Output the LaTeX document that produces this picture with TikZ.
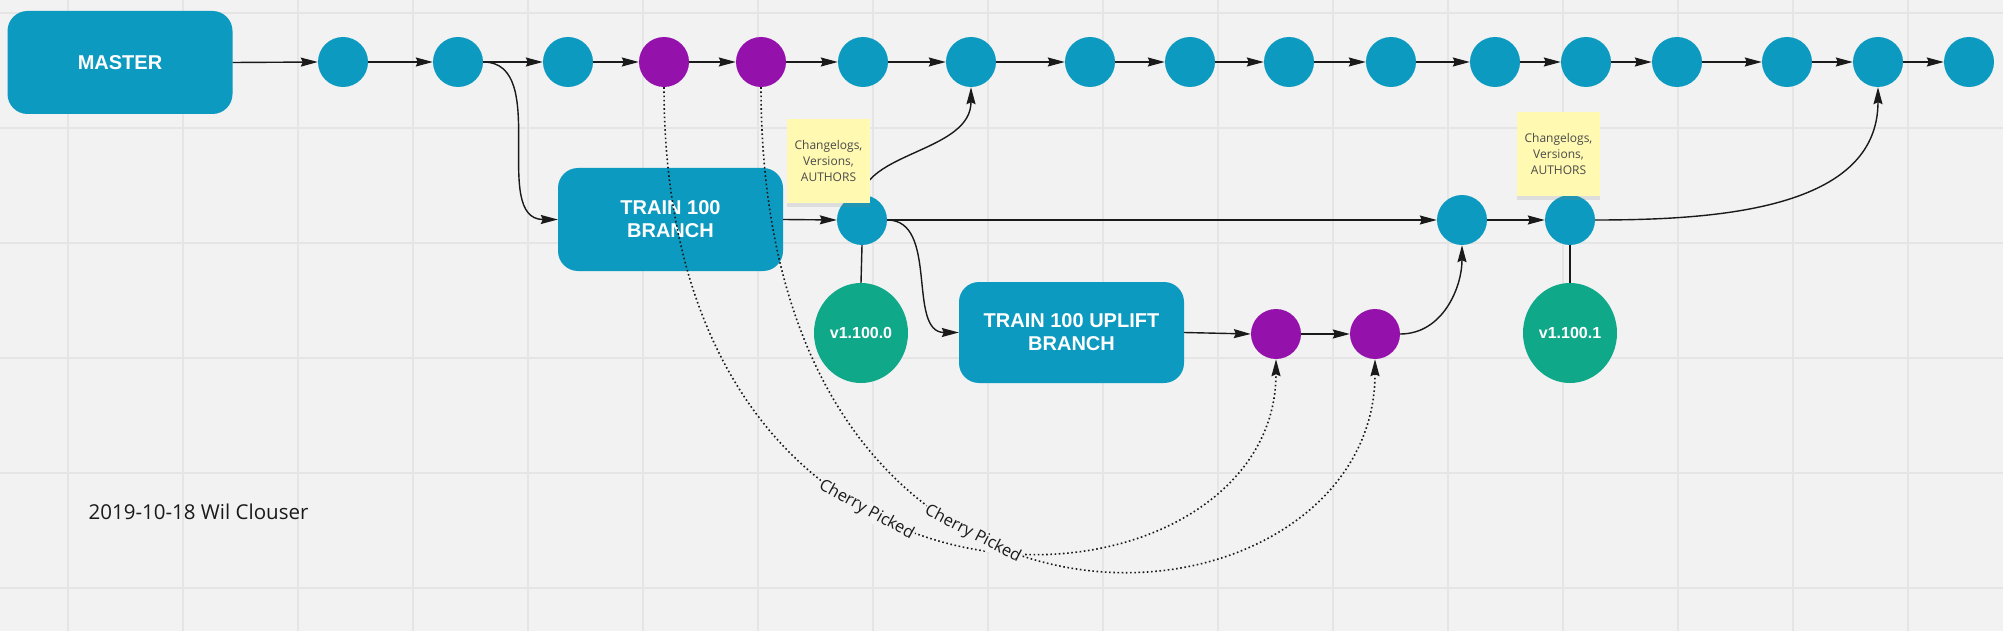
\documentclass[tikz,border=0pt]{standalone}
\usepackage{fontspec}
\setmainfont{Liberation Sans}
\newfontfamily\opensans{Open Sans}
\usetikzlibrary{arrows.meta,shapes.geometric,shadows}
\definecolor{bg}{HTML}{F2F2F2}
\definecolor{gridc}{HTML}{E5E5E5}
\definecolor{cblue}{HTML}{0C9AC0}
\definecolor{cpurple}{HTML}{9411AB}
\definecolor{cgreen}{HTML}{0FA889}
\definecolor{stickyc}{HTML}{FFF9B1}
\definecolor{ink}{HTML}{1A1A1A}
\definecolor{notetext}{HTML}{4A4A4A}
\begin{document}
\begin{tikzpicture}[x=1pt,y=1pt,
  commit/.style={circle,fill=cblue,minimum size=50pt,inner sep=0pt},
  pcommit/.style={commit,fill=cpurple},
  branchbox/.style={rounded corners=20pt,fill=cblue,text=white,
    font=\bfseries\fontsize{20}{23}\selectfont,align=center,
    minimum width=225pt,minimum height=103pt,inner sep=0pt},
  tagnode/.style={ellipse,fill=cgreen,text=white,
    font=\bfseries\fontsize{16}{18}\selectfont,
    minimum width=94pt,minimum height=100pt,inner sep=0pt},
  note/.style={fill=stickyc,text=notetext,
    font=\opensans\fontsize{12}{16}\selectfont,align=center,
    minimum width=83pt,minimum height=84pt,inner sep=0pt,
    drop shadow={opacity=0.18,shadow xshift=0pt,shadow yshift=-4pt}},
  flow/.style={draw=ink,line width=1.4pt,-{Stealth[length=17pt,width=9pt,inset=2pt]}},
  link/.style={draw=ink,line width=1.4pt},
  pick/.style={draw=ink,line width=1.6pt,dash pattern=on 1.6pt off 2.6pt,
    -{Stealth[length=17pt,width=9pt,inset=2pt]}},
  picklabel/.style={fill=bg,text=ink,inner sep=1pt,
    font=\opensans\fontsize{16.5}{16.5}\selectfont,sloped},
  gridline/.style={draw=gridc,line width=1.2pt}]

% background and grid
\fill[bg] (0,0) rectangle (2003,-631);
\useasboundingbox (0,0) rectangle (2003,-631);
\foreach \gx in {68,183,...,1908} \draw[gridline] (\gx,0) -- (\gx,-631);
\foreach \gy in {13,128,...,588} \draw[gridline] (0,-\gy) -- (2003,-\gy);

% master row
\node[branchbox] (master) at (120,-62.5) {MASTER};
\foreach \i/\x/\s in {1/343/commit,2/458/commit,3/568/commit,4/664/pcommit,
  5/761/pcommit,6/863/commit,7/971/commit,8/1090/commit,9/1190/commit,
  10/1289/commit,11/1391/commit,12/1495/commit,13/1586/commit,14/1677/commit,
  15/1787/commit,16/1878/commit,17/1969/commit}
  \node[\s] (m\i) at (\x,-62) {};

% train 100 branch
\node[branchbox] (train) at (670.5,-219.5) {TRAIN 100\\BRANCH};
\node[commit] (b1) at (862,-220) {};
\node[commit] (b2) at (1462,-220) {};
\node[commit] (b3) at (1570,-220) {};
\node[tagnode] (tag0) at (861,-333) {v1.100.0};
\node[tagnode] (tag1) at (1570,-333) {v1.100.1};

% uplift branch
\node[branchbox,minimum height=101pt] (uplift) at (1071.5,-332.5) {TRAIN 100 UPLIFT\\BRANCH};
\node[pcommit] (p1) at (1276,-334) {};
\node[pcommit] (p2) at (1375,-334) {};

% date
\node[font=\opensans\fontsize{20.5}{24}\selectfont,text=ink] (date) at (198.5,-511.5) {2019-10-18 Wil Clouser};

% connectors on master
\draw[flow] (master.east) -- (m1.west);
\foreach \i in {1,...,16}{
  \pgfmathtruncatemacro{\j}{\i+1}
  \draw[flow] (m\i) -- (m\j);
}
\draw[flow] (m2.east) to[out=0,in=180] (train.west);
\draw[flow] (train.east) -- (b1.west);
\draw[flow] (b1.north) .. controls (871,-152) and (971,-150) .. (m7.south);
\draw[flow] (b1.east) -- (b2.west);
\draw[flow] (b1.east) to[out=0,in=180] (uplift.west);
\draw[flow] (b2.east) -- (b3.west);
\draw[flow] (b3.east) to[out=0,in=-90] (m16.south);
\draw[link] (b1.south) -- (tag0.north);
\draw[link] (b3.south) -- (tag1.north);
\draw[flow] (uplift.east) -- (p1.west);
\draw[flow] (p1.east) -- (p2.west);
\draw[flow] (p2.east) to[out=0,in=-90] (b2.south);

% cherry picks
\draw[pick] (m4.south) .. controls (664,-681) and (1276,-628) .. (p1.south)
  node[picklabel,pos=0.385] (cp1) {Cherry Picked};
\draw[pick] (m5.south) .. controls (761,-714) and (1375,-646) .. (p2.south)
  node[picklabel,pos=0.395] (cp2) {Cherry Picked};

% sticky notes
\node[note] (note1) at (828.5,-161) {Changelogs,\\Versions,\\AUTHORS};
\node[note] (note2) at (1558.5,-154) {Changelogs,\\Versions,\\AUTHORS};
\end{tikzpicture}
\end{document}
